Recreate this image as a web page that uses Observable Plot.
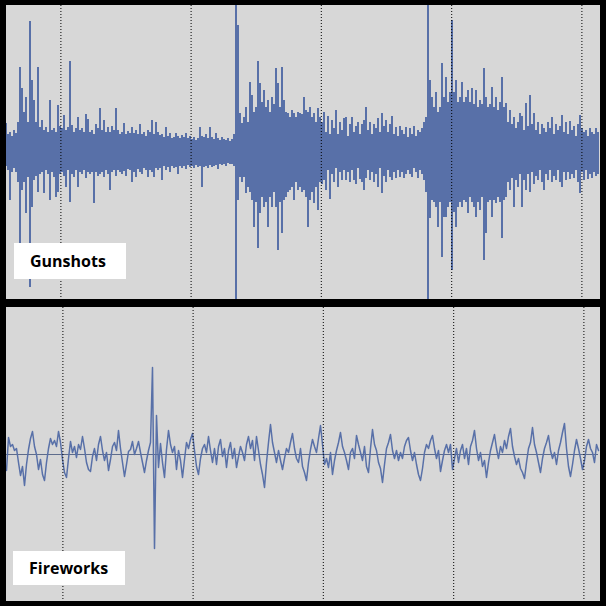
<!DOCTYPE html>
<html>
<head>
<meta charset="utf-8">
<script src="https://cdn.jsdelivr.net/npm/d3@7"></script>
<script src="https://cdn.jsdelivr.net/npm/@observablehq/plot@0.6"></script>
<style>
  html, body { margin: 0; padding: 0; background: #000; }
  #wrap { position: relative; width: 606px; height: 606px; background: #000; overflow: hidden; }
  .panel { position: absolute; left: 6px; }
  .panel svg { display: block; }
  .label {
    position: absolute; background: #fff; color: #000;
    font-family: "Open Sans", sans-serif; font-weight: 700; font-size: 16px;
    box-sizing: border-box; padding-left: 16px; display: flex; align-items: center;
  }
</style>
</head>
<body>
<div id="wrap"></div>
<script>
// Panel titles
const panelLabels = ["Gunshots", "Fireworks"];

// Gunshots waveform: per-column peak envelope (full scale = ±147), one column every 2 px
const gunshotUpper = [
  29,18,20,16,22,19,30,85,64,40,
  55,30,131,72,52,30,85,25,32,22,
  25,20,52,22,24,20,47,26,24,37,
  22,25,91,27,20,24,35,22,24,20,
  38,33,20,22,18,28,24,44,22,32,
  20,25,20,26,22,44,22,18,20,29,
  18,21,19,25,19,22,18,28,18,20,
  16,22,20,32,18,30,20,17,18,15,
  25,16,19,14,15,19,16,14,17,15,
  19,14,16,13,15,12,14,25,16,15,
  18,14,25,15,13,19,14,12,15,13,
  12,14,11,13,18,147,127,39,29,35,
  45,30,70,57,40,45,91,69,50,62,
  45,52,40,55,48,84,69,45,85,52,
  40,39,35,42,39,35,40,39,38,55,
  42,40,45,35,39,30,44,35,30,40,
  20,36,18,32,24,42,18,30,22,34,
  35,16,28,35,20,26,30,18,28,32,
  45,22,30,18,28,24,34,20,39,26,
  32,20,28,36,18,25,16,26,22,18,
  25,15,24,18,26,16,22,20,24,30,
  35,147,72,55,45,60,40,45,89,55,
  75,50,60,132,60,72,50,55,70,50,
  55,62,50,64,48,62,45,52,48,84,
  55,45,48,65,45,55,42,50,75,45,
  49,30,42,28,35,24,30,39,36,22,
  49,26,57,28,39,22,30,18,28,24,
  20,30,24,35,18,28,22,26,37,20,
  30,18,31,22,26,16,28,37,24,20,
  22,16,24,20,18,24,20
];
const gunshotLower = [
  -14,-18,-48,-20,-16,-20,-30,-91,-38,-30,
  -61,-25,-135,-55,-28,-24,-40,-22,-20,-41,
  -18,-22,-48,-20,-25,-45,-40,-22,-20,-24,
  -35,-18,-50,-22,-25,-18,-35,-20,-22,-18,
  -26,-20,-22,-20,-51,-20,-24,-22,-20,-25,
  -18,-22,-38,-20,-18,-24,-18,-20,-22,-19,
  -24,-17,-18,-30,-20,-25,-17,-20,-22,-16,
  -18,-25,-18,-20,-25,-16,-18,-16,-28,-14,
  -18,-15,-20,-14,-16,-15,-22,-14,-16,-14,
  -17,-13,-15,-14,-16,-13,-15,-14,-35,-15,
  -14,-16,-13,-15,-14,-13,-17,-12,-13,-12,
  -14,-11,-12,-12,-14,-147,-48,-25,-30,-25,
  -41,-35,-40,-48,-75,-50,-96,-61,-45,-55,
  -50,-75,-45,-55,-40,-55,-98,-50,-81,-48,
  -45,-40,-38,-35,-48,-30,-38,-35,-40,-38,
  -45,-75,-48,-40,-51,-35,-58,-30,-32,-28,
  -38,-18,-47,-22,-30,-16,-35,-20,-28,-18,
  -28,-20,-30,-18,-28,-32,-16,-27,-30,-38,
  -26,-18,-28,-20,-30,-22,-35,-16,-41,-24,
  -30,-18,-25,-28,-20,-26,-18,-25,-20,-26,
  -22,-18,-22,-25,-16,-20,-26,-18,-22,-28,
  -40,-147,-66,-48,-50,-55,-75,-50,-105,-65,
  -65,-55,-50,-118,-60,-75,-55,-50,-55,-48,
  -50,-61,-45,-50,-55,-65,-50,-58,-45,-108,
  -81,-50,-48,-65,-48,-51,-45,-50,-86,-48,
  -45,-30,-38,-26,-55,-28,-35,-22,-55,-28,
  -38,-22,-40,-20,-32,-24,-28,-18,-30,-38,
  -22,-28,-18,-30,-24,-28,-18,-30,-35,-20,
  -28,-20,-27,-22,-26,-18,-30,-41,-20,-28,
  -18,-27,-22,-26,-20,-24,-22
];

// Fireworks waveform samples (signed amplitude, full scale = ±147), one sample every ~2 px
const fireworkSamples = [
  -16,17,8,10,4,6,-8,-21,-12,-31,
  -10,5,16,23,8,0,-15,-5,-20,-26,
  -8,6,16,10,14,8,23,12,-5,-18,
  -23,-4,13,2,8,-3,10,5,18,6,
  -8,-15,-17,-2,6,-6,10,18,4,-6,
  2,-16,-5,8,12,4,24,6,-8,-22,
  -10,3,5,13,0,6,13,2,-8,-18,
  -6,4,12,87,-94,39,-13,11,-8,-23,
  5,24,10,2,8,-15,4,-6,-23,-5,
  12,6,15,21,4,-12,-20,-4,6,10,
  2,18,4,-8,6,-10,8,15,-2,6,
  -13,4,12,-4,6,-13,-2,8,2,-6,
  10,18,6,14,-6,18,4,-10,-20,-33,
  -8,12,30,12,2,-8,4,-6,-15,-4,
  6,2,12,21,6,-4,-8,6,-12,-18,
  -26,-8,5,15,8,2,16,29,10,-10,
  -4,-13,2,-20,-6,4,12,22,8,2,
  -6,-15,2,6,-4,19,10,2,-6,8,
  -12,-18,6,25,10,4,-8,-14,-28,-10,
  6,12,20,4,-4,4,-6,2,-4,8,
  14,17,4,-6,2,-10,-20,-26,-14,2,
  10,6,14,19,6,-4,4,-17,-6,4,
  10,2,10,-15,-4,6,-8,4,10,-4,
  6,-10,8,14,24,6,-6,2,-12,-6,
  -23,-8,4,12,20,6,-4,8,2,14,
  6,18,26,8,-2,-10,-4,-14,-18,-24,
  -8,6,12,27,10,2,-8,-18,-4,6,
  12,19,4,-4,2,-10,4,12,22,31,
  6,-12,-22,-10,4,15,6,-4,-15,-6,
  8,15,6,2,-8,10,4
];

// Dotted time grid positions (in column / sample index units)
const gunshotTicks = [27.2, 92.3, 157.4, 222.6, 287.7];
const fireworkTicks = [28.2, 93.3, 158.4, 223.6, 288.7];

const panelBg = "#d7d7d7";
const waveColor = "#5870a8";
const zeroColor = "#5e6c8c";

function frame(n, marks) {
  return Plot.plot({
    width: 594,
    height: 294,
    marginLeft: 0, marginRight: 2, marginTop: 0, marginBottom: 0,
    style: {background: panelBg, overflow: "hidden"},
    x: {domain: [0, n - 1], axis: null},
    y: {domain: [-147, 147], axis: null},
    marks
  });
}

const gunCols = gunshotUpper.map((hi, i) => ({i, hi, lo: gunshotLower[i]}));
const gunPlot = frame(gunshotUpper.length, [
  Plot.ruleY([0], {stroke: zeroColor, strokeWidth: 1}),
  Plot.ruleX(gunCols, {x: "i", y1: "lo", y2: "hi", stroke: waveColor, strokeWidth: 2, dx: -0.5}),
  Plot.ruleX(gunshotTicks, {stroke: "#000", strokeWidth: 1, strokeDasharray: "1,2"})
]);

const fireData = fireworkSamples.map((v, i) => ({i, v}));
const firePlot = frame(fireworkSamples.length, [
  Plot.ruleY([0], {stroke: zeroColor, strokeWidth: 1}),
  Plot.line(fireData, {x: "i", y: "v", stroke: waveColor, strokeWidth: 1.5, curve: "linear"}),
  Plot.ruleX(fireworkTicks, {stroke: "#000", strokeWidth: 1, strokeDasharray: "1,2"})
]);

const wrap = document.getElementById("wrap");
const specs = [
  {plot: gunPlot, top: 5, label: {left: 14, top: 243, w: 112, h: 36}},
  {plot: firePlot, top: 307, label: {left: 13, top: 551, w: 112, h: 34}}
];
specs.forEach((s, k) => {
  const div = document.createElement("div");
  div.className = "panel";
  div.style.top = s.top + "px";
  div.appendChild(s.plot);
  wrap.appendChild(div);
  const lab = document.createElement("div");
  lab.className = "label";
  lab.style.left = s.label.left + "px";
  lab.style.top = s.label.top + "px";
  lab.style.width = s.label.w + "px";
  lab.style.height = s.label.h + "px";
  lab.textContent = panelLabels[k];
  wrap.appendChild(lab);
});
</script>
</body>
</html>
